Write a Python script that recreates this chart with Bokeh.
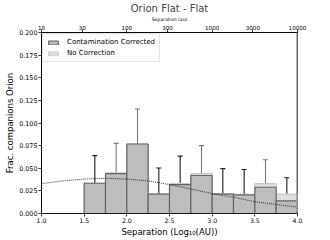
from bokeh.plotting import figure
from bokeh.models import (Range1d, LinearAxis, FixedTicker, PrintfTickFormatter,
                          CustomJSTickFormatter, Whisker, TeeHead, ColumnDataSource,
                          Span, Legend, LegendItem)
from bokeh.embed import file_html
from bokeh.resources import INLINE
import math

# ---------------- data ----------------
bin_edges = [1.0, 1.25, 1.5, 1.75, 2.0, 2.25, 2.5, 2.75, 3.0, 3.25, 3.5, 3.75, 4.0]
frac_corrected = [0.0, 0.0, 0.0334, 0.0440, 0.0768, 0.0214, 0.0320, 0.0420, 0.0214, 0.0205, 0.0290, 0.0140]
frac_no_corr   = [0.0, 0.0, 0.0334, 0.0450, 0.0768, 0.0214, 0.0330, 0.0440, 0.0220, 0.0212, 0.0330, 0.0214]

err_x     = [1.625, 1.875, 2.125, 2.375, 2.625, 2.875, 3.125, 3.375, 3.625, 3.875]
err_lower = [0.0150, 0.0230, 0.0486, 0.0069, 0.0140, 0.0214, 0.0069, 0.0058, 0.0116, 0.0033]
err_upper = [0.0640, 0.0775, 0.1155, 0.0503, 0.0634, 0.0750, 0.0496, 0.0486, 0.0594, 0.0395]
err_group = ["dark", "light", "light", "dark", "dark", "light", "dark", "dark", "light", "dark"]

model_x = [1.0, 1.25, 1.5, 1.75, 2.0, 2.25, 2.5, 2.75, 3.0, 3.25, 3.5, 3.75, 4.0]
model_y = [0.033, 0.036, 0.038, 0.039, 0.038, 0.036, 0.032, 0.027, 0.022, 0.018, 0.013, 0.010, 0.007]

x_ticks = [1.0, 1.5, 2.0, 2.5, 3.0, 3.5, 4.0]
y_ticks = [0.0, 0.025, 0.05, 0.075, 0.1, 0.125, 0.15, 0.175, 0.2]
au_ticks = [10, 30, 100, 300, 1000, 3000, 10000]

FONT = "DejaVu Sans"

p = figure(width=330, height=240, output_backend="svg", toolbar_location=None,
           x_range=Range1d(1.0, 4.0), y_range=Range1d(0.0, 0.2),
           min_border_left=41, min_border_right=33, min_border_top=29, min_border_bottom=27)

p.title.text = "Orion Flat - Flat"
p.title.align = "center"
p.title.text_font = FONT
p.title.text_font_size = "10px"
p.title.text_font_style = "normal"
p.title.standoff = 0
p.title.offset = 0

p.xgrid.visible = False
p.ygrid.visible = False
p.outline_line_color = "black"
p.outline_line_width = 0.8
p.background_fill_color = "white"

def style_axis(ax, size):
    ax.axis_line_color = "black"
    ax.axis_line_width = 0.8
    ax.major_tick_out = 3
    ax.major_tick_in = 0
    ax.minor_tick_out = 0
    ax.minor_tick_in = 0
    ax.major_tick_line_color = "black"
    ax.major_tick_line_width = 0.8
    ax.major_label_text_font = FONT
    ax.major_label_text_font_size = size
    ax.major_label_text_color = "black"
    ax.major_label_standoff = 1
    ax.axis_label_text_font = FONT
    ax.axis_label_text_font_style = "normal"
    ax.axis_label_text_color = "black"
    ax.axis_label_standoff = 1

xa = p.xaxis[0]
xa.ticker = FixedTicker(ticks=x_ticks)
xa.formatter = PrintfTickFormatter(format="%.1f")
xa.axis_label = "Separation (Log\u2081\u2080(AU))"
style_axis(xa, "6.2px")
xa.axis_label_text_font_size = "8.5px"

ya = p.yaxis[0]
ya.ticker = FixedTicker(ticks=y_ticks)
ya.formatter = PrintfTickFormatter(format="%.3f")
ya.axis_label = "Frac. companions Orion"
style_axis(ya, "6.4px")
ya.axis_label_text_font_size = "8.5px"

top_axis = LinearAxis(ticker=FixedTicker(ticks=[math.log10(v) for v in au_ticks]),
                      formatter=CustomJSTickFormatter(code="return String(Math.round(Math.pow(10, tick)));"),
                      axis_label="Separation (au)")
style_axis(top_axis, "5.6px")
top_axis.major_label_standoff = 0
top_axis.axis_label_text_font_size = "4.6px"
top_axis.axis_label_standoff = 0
p.add_layout(top_axis, "above")

left_edges = bin_edges[:-1]
right_edges = bin_edges[1:]

r_nc = p.quad(left=left_edges, right=right_edges, bottom=0, top=frac_no_corr,
              fill_color="#dedede", fill_alpha=1.0, line_color="#c9c9c9", line_width=1.2)
r_cc = p.quad(left=left_edges, right=right_edges, bottom=0, top=frac_corrected,
              fill_color="#bdbdbd", fill_alpha=1.0, line_color="#666666", line_width=1.2)

p.line(model_x, model_y, line_color="#222222", line_width=0.9, line_dash="1 1")

colors = {"dark": "#1e1e1e", "light": "#7a7a7a"}
for grp in ("dark", "light"):
    idx = [i for i, g in enumerate(err_group) if g == grp]
    src = ColumnDataSource(dict(x=[err_x[i] for i in idx],
                                lo=[err_lower[i] for i in idx],
                                hi=[err_upper[i] for i in idx]))
    c = colors[grp]
    w = Whisker(source=src, base="x", lower="lo", upper="hi",
                line_color=c, line_width=1.1,
                upper_head=TeeHead(size=5, line_color=c, line_width=1.1),
                lower_head=TeeHead(size=5, line_color=c, line_width=1.1))
    p.add_layout(w)

p.add_layout(Span(location=4.0, dimension="height", line_color="#9a9a9a", line_width=2.5))

legend = Legend(items=[LegendItem(label="Contamination Corrected", renderers=[r_cc]),
                       LegendItem(label="No Correction", renderers=[r_nc])],
                location="top_left")
legend.label_text_font = FONT
legend.label_text_font_size = "7px"
legend.label_text_color = "black"
legend.glyph_width = 12
legend.glyph_height = 5
legend.label_height = 8
legend.label_standoff = 8
legend.spacing = 3
legend.padding = 4
legend.margin = 1
legend.border_line_color = "#cccccc"
legend.border_line_width = 0.8
legend.background_fill_alpha = 0.85
p.add_layout(legend)

open("out.html", "w").write(file_html(p, INLINE))
